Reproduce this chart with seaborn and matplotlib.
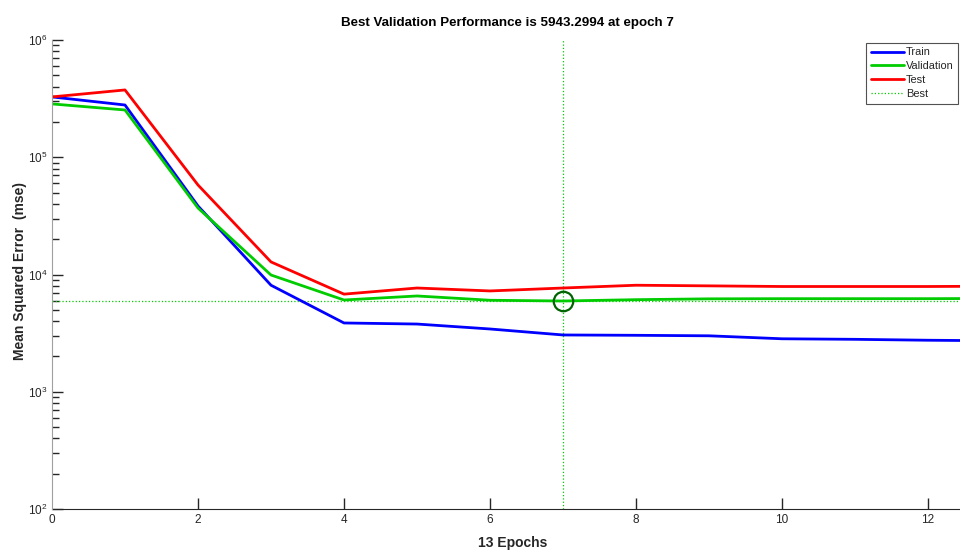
import numpy as np
import pandas as pd
import matplotlib
matplotlib.use("Agg")
import matplotlib.pyplot as plt
import seaborn as sns
from matplotlib.lines import Line2D

epochs = list(range(14))
train = [3.27e5, 2.79e5, 3.84e4, 8.1e3, 3.86e3, 3.78e3, 3.43e3, 3.05e3, 3.03e3, 3.0e3, 2.83e3, 2.8e3, 2.75e3, 2.72e3]
validation = [2.85e5, 2.53e5, 3.69e4, 9.9e3, 6.06e3, 6.56e3, 6.03e3, 5943.2994, 6.1e3, 6.2e3, 6.22e3, 6.22e3, 6.22e3, 6.25e3]
test = [3.27e5, 3.75e5, 5.8e4, 1.28e4, 6.8e3, 7.67e3, 7.24e3, 7.67e3, 8.1e3, 8.0e3, 7.9e3, 7.9e3, 7.9e3, 7.95e3]
best_epoch = 7
best_perf = 5943.2994
series_names = ["Train", "Validation", "Test"]
colors = {"Train": "#0000ff", "Validation": "#00cc00", "Test": "#ff0000"}

df = pd.DataFrame({
    "Epoch": epochs * 3,
    "MSE": train + validation + test,
    "Series": ["Train"] * 14 + ["Validation"] * 14 + ["Test"] * 14,
})

sns.set_style("white")
plt.rcParams["font.family"] = ["Liberation Sans", "DejaVu Sans"]

fig = plt.figure(figsize=(9.6, 5.52), dpi=100)
ax = fig.add_axes([52 / 960, 43 / 552, (1001 - 52) / 960, 469 / 552])

sns.lineplot(data=df, x="Epoch", y="MSE", hue="Series", palette=colors,
             hue_order=series_names, linewidth=2, ax=ax, legend=False, zorder=3)

ax.set_yscale("log")
ax.set_ylim(1e2, 1e6)
ax.set_xlim(0, 13)

ax.axvline(best_epoch, color="#00cc00", linestyle=":", linewidth=0.9, zorder=1)
ax.axhline(best_perf, color="#00cc00", linestyle=":", linewidth=0.9, zorder=1)
ax.plot([best_epoch], [best_perf], marker="o", markersize=14, markerfacecolor="none",
        markeredgecolor="#006400", markeredgewidth=1.6, zorder=4)

ax.set_xticks(range(0, 14, 2))
ax.tick_params(axis="both", which="major", direction="in", length=8, width=1,
               labelsize=8.5, colors="#262626", left=True, bottom=True)
ax.tick_params(axis="y", which="minor", direction="in", length=5, width=1, left=True)
ax.yaxis.set_minor_locator(matplotlib.ticker.LogLocator(base=10, subs=np.arange(2, 10)))
ax.yaxis.set_minor_formatter(matplotlib.ticker.NullFormatter())
ax.xaxis.get_major_ticks()[0].tick1line.set_visible(False)

for s in ["top", "right"]:
    ax.spines[s].set_visible(False)
ax.spines["left"].set_color("#a0a0a0")
ax.spines["left"].set_zorder(5)
ax.spines["bottom"].set_color("#262626")

ax.set_xlabel("")
ax.set_ylabel("")
fig.text(513 / 960, 1 - 543 / 552, "13 Epochs", ha="center", va="center",
         fontsize=10, fontweight="bold", color="#262626")
fig.text(20 / 960, 1 - 271 / 552, "Mean Squared Error  (mse)", ha="center", va="center",
         rotation=90, fontsize=10, fontweight="bold", color="#262626")
fig.text(507 / 960, 1 - 23 / 552,
         "Best Validation Performance is 5943.2994 at epoch 7",
         ha="center", va="center", fontsize=9.6, fontweight="bold", color="#000000")

handles = [Line2D([], [], color=colors[n], linewidth=2) for n in series_names]
handles.append(Line2D([], [], color="#00cc00", linestyle=":", linewidth=0.9))
leg = fig.legend(handles, series_names + ["Best"], loc="upper right",
                 bbox_to_anchor=(958 / 960, 1 - 43 / 552), fontsize=7.9,
                 frameon=True, fancybox=False, handlelength=3.0, handletextpad=0.2,
                 borderpad=0.4, labelspacing=0.36, borderaxespad=0)
leg.get_frame().set_edgecolor("#262626")
leg.get_frame().set_linewidth(0.8)

fig.savefig("out.png", dpi=100)
